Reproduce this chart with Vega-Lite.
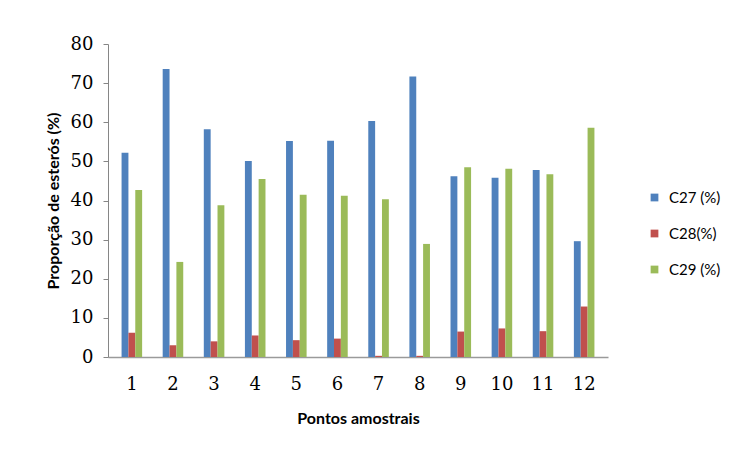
{
  "$schema": "https://vega.github.io/schema/vega-lite/v6.json",
  "width": 500,
  "height": 313,
  "autosize": {"type": "none"},
  "padding": {"left": 108, "top": 44, "right": 134, "bottom": 93},
  "background": "white",
  "config": {"view": {"stroke": null}},
  "data": {
    "values": [
      {"ponto": "1", "serie": "C27 (%)", "valor": 52.2},
      {"ponto": "1", "serie": "C28(%)", "valor": 6.2},
      {"ponto": "1", "serie": "C29 (%)", "valor": 42.7},
      {"ponto": "2", "serie": "C27 (%)", "valor": 73.6},
      {"ponto": "2", "serie": "C28(%)", "valor": 3.0},
      {"ponto": "2", "serie": "C29 (%)", "valor": 24.3},
      {"ponto": "3", "serie": "C27 (%)", "valor": 58.2},
      {"ponto": "3", "serie": "C28(%)", "valor": 4.0},
      {"ponto": "3", "serie": "C29 (%)", "valor": 38.8},
      {"ponto": "4", "serie": "C27 (%)", "valor": 50.1},
      {"ponto": "4", "serie": "C28(%)", "valor": 5.5},
      {"ponto": "4", "serie": "C29 (%)", "valor": 45.5},
      {"ponto": "5", "serie": "C27 (%)", "valor": 55.2},
      {"ponto": "5", "serie": "C28(%)", "valor": 4.3},
      {"ponto": "5", "serie": "C29 (%)", "valor": 41.5},
      {"ponto": "6", "serie": "C27 (%)", "valor": 55.3},
      {"ponto": "6", "serie": "C28(%)", "valor": 4.7},
      {"ponto": "6", "serie": "C29 (%)", "valor": 41.2},
      {"ponto": "7", "serie": "C27 (%)", "valor": 60.3},
      {"ponto": "7", "serie": "C28(%)", "valor": 0.3},
      {"ponto": "7", "serie": "C29 (%)", "valor": 40.3},
      {"ponto": "8", "serie": "C27 (%)", "valor": 71.7},
      {"ponto": "8", "serie": "C28(%)", "valor": 0.3},
      {"ponto": "8", "serie": "C29 (%)", "valor": 28.9},
      {"ponto": "9", "serie": "C27 (%)", "valor": 46.2},
      {"ponto": "9", "serie": "C28(%)", "valor": 6.5},
      {"ponto": "9", "serie": "C29 (%)", "valor": 48.5},
      {"ponto": "10", "serie": "C27 (%)", "valor": 45.8},
      {"ponto": "10", "serie": "C28(%)", "valor": 7.3},
      {"ponto": "10", "serie": "C29 (%)", "valor": 48.1},
      {"ponto": "11", "serie": "C27 (%)", "valor": 47.8},
      {"ponto": "11", "serie": "C28(%)", "valor": 6.6},
      {"ponto": "11", "serie": "C29 (%)", "valor": 46.7},
      {"ponto": "12", "serie": "C27 (%)", "valor": 29.6},
      {"ponto": "12", "serie": "C28(%)", "valor": 12.9},
      {"ponto": "12", "serie": "C29 (%)", "valor": 58.6}
    ]
  },
  "mark": {"type": "bar", "stroke": null},
  "encoding": {
    "x": {
      "field": "ponto",
      "type": "ordinal",
      "sort": null,
      "scale": {"paddingInner": 0.5, "paddingOuter": 0.33},
      "axis": {
        "title": "Pontos amostrais",
        "titleFont": "Lato",
        "titleFontSize": 16,
        "titleFontWeight": "bold",
        "titleColor": "#000000",
        "titlePadding": 17,
        "labelAngle": 0,
        "labelFont": "DejaVu Serif",
        "labelFontSize": 18,
        "labelColor": "#000000",
        "labelPadding": 18,
        "ticks": false,
        "domainColor": "#9a9a9a",
        "domainWidth": 1.5
      }
    },
    "xOffset": {"field": "serie", "sort": ["C27 (%)", "C28(%)", "C29 (%)"]},
    "y": {
      "field": "valor",
      "type": "quantitative",
      "scale": {"domain": [0, 80], "nice": false},
      "axis": {
        "title": "Proporção de esterós (%)",
        "titleFont": "Lato",
        "titleFontSize": 16,
        "titleFontWeight": "bold",
        "titleColor": "#000000",
        "titlePadding": 9,
        "values": [0, 10, 20, 30, 40, 50, 60, 70, 80],
        "grid": false,
        "labelFont": "DejaVu Serif",
        "labelFontSize": 18,
        "labelColor": "#000000",
        "labelPadding": 10,
        "tickSize": 5,
        "tickColor": "#868686",
        "domainColor": "#868686"
      }
    },
    "color": {
      "field": "serie",
      "type": "nominal",
      "sort": ["C27 (%)", "C28(%)", "C29 (%)"],
      "scale": {
        "domain": ["C27 (%)", "C28(%)", "C29 (%)"],
        "range": ["#4F81BD", "#C0504D", "#9BBB59"]
      },
      "legend": {
        "title": null,
        "orient": "none",
        "legendX": 539,
        "legendY": 146,
        "symbolType": "square",
        "symbolSize": 60,
        "symbolStrokeWidth": 0,
        "labelFont": "Lato",
        "labelFontSize": 15,
        "labelColor": "#000000",
        "labelOffset": 7,
        "rowPadding": 20
      }
    }
  }
}
